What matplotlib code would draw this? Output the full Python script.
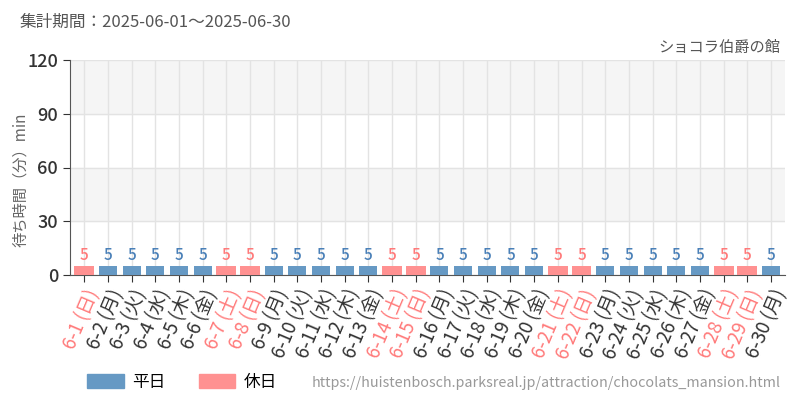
import matplotlib.pyplot as plt
from matplotlib.patches import Patch

plt.rcParams['font.family'] = ['Noto Sans CJK JP', 'DejaVu Sans']

days = list(range(1, 31))
weekdays = ['日', '月', '火', '水', '木', '金', '土']
dow = [weekdays[(d - 1) % 7] for d in days]
waits = [5] * 30
holiday = [w in ('土', '日') for w in dow]
labels = ['6-%d (%s)' % (d, w) for d, w in zip(days, dow)]

c_week = '#6699c4'
c_hol = '#ff9191'
t_week = '#4a80b8'
t_hol = '#ff7a7a'

fig = plt.figure(figsize=(8, 4), dpi=100)
ax = fig.add_axes([0.0875, 0.3125, 0.894, 0.5375])

x = list(range(len(days)))
for i in x:
    if holiday[i]:
        ax.bar(i, waits[i], width=0.84, color=c_hol, zorder=3)
        ax.text(i, waits[i] + 1.0, str(waits[i]), ha='center', va='bottom',
                fontsize=11, fontweight='medium', color=t_hol, zorder=4)
    else:
        ax.bar(i, waits[i], width=0.76, color=c_week, zorder=3)
        ax.text(i, waits[i] + 1.0, str(waits[i]), ha='center', va='bottom',
                fontsize=11, fontweight='medium', color=t_week, zorder=4)

ax.set_xlim(-0.6, len(days) - 0.4)
ax.set_ylim(0, 120)
for lo in (30, 90):
    ax.axhspan(lo, lo + 30, color='#f5f5f5', zorder=0)
ax.set_yticks([0, 30, 60, 90, 120])
ax.set_xticks(x)
ax.set_xticklabels(labels, rotation=67, ha='right', rotation_mode='anchor', fontsize=13.5)
for lab, h in zip(ax.get_xticklabels(), holiday):
    lab.set_color(t_hol if h else '#333333')
ax.tick_params(axis='y', labelsize=13, colors='#333333', length=5)
for lab in ax.get_yticklabels():
    lab.set_fontweight('medium')
ax.tick_params(axis='x', length=5, color='#333333', pad=3)
ax.grid(True, color='#e3e3e3', linewidth=1, zorder=1)
ax.set_axisbelow(True)
for s in ('top', 'right'):
    ax.spines[s].set_visible(False)
for s in ('left', 'bottom'):
    ax.spines[s].set_color('#555555')

fig.text(0.026, 0.55, '待ち時間（分）min', fontsize=11, color='#666666',
         rotation=90, ha='center', va='center')
fig.text(0.025, 0.945, '集計期間：2025-06-01～2025-06-30', fontsize=12, color='#555555', va='center')
fig.text(0.976, 0.882, 'ショコラ伯爵の館', fontsize=11, color='#555555', ha='right', va='center')
fig.text(0.976, 0.043, 'https://huistenbosch.parksreal.jp/attraction/chocolats_mansion.html',
         fontsize=10.3, color='#999999', ha='right', va='center')

handles = [Patch(color=c_week, label='平日'), Patch(color=c_hol, label='休日')]
fig.legend(handles=handles, loc='center left', bbox_to_anchor=(0.09, 0.045), ncol=2,
           frameon=False, fontsize=12, handlelength=2.2, handleheight=0.9,
           columnspacing=2.0, handletextpad=0.5)

fig.savefig('out.png')
